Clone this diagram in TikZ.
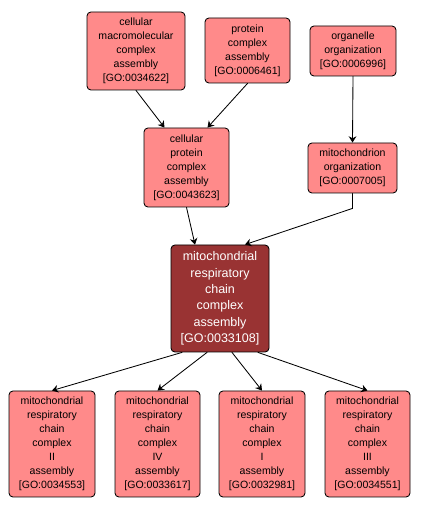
\documentclass[tikz,border=0pt]{standalone}
\usepackage{fontspec}
\setmainfont{Liberation Sans}
\usepackage{tikz}
\usetikzlibrary{arrows.meta}
\usepackage{xcolor}
\definecolor{termfill}{RGB}{255,138,138}
\definecolor{focusfill}{RGB}{153,51,51}

\begin{document}
\begin{tikzpicture}[>={Stealth[length=4.5pt,width=5.5pt,inset=1.5pt]},line cap=round,line width=0.6pt,
  term/.style={draw=black,fill=termfill,rounded corners=2.8pt,inner sep=0pt,align=center,
    font=\fontsize{7.5}{10}\selectfont},
  focus/.style={term,fill=focusfill,text=white,font=\fontsize{8.9}{11.7}\selectfont}]
\useasboundingbox (0,0) rectangle (10.5,12.725);
% top row
\node[term,minimum width=2.45cm,minimum height=1.95cm] (cmc) at (3.4,11.45)
  {cellular\\macromolecular\\complex\\assembly\\{[GO:0034622]}};
\node[term,minimum width=2.125cm,minimum height=1.625cm] (pca) at (6.1875,11.4625)
  {protein\\complex\\assembly\\{[GO:0006461]}};
\node[term,minimum width=2.15cm,minimum height=1.25cm] (oo) at (8.825,11.45)
  {organelle\\organization\\{[GO:0006996]}};
% middle row
\node[term,minimum width=2.125cm,minimum height=1.975cm] (cpca) at (4.6625,8.5375)
  {cellular\\protein\\complex\\assembly\\{[GO:0043623]}};
\node[term,minimum width=2.225cm,minimum height=1.25cm] (mo) at (8.8125,8.525)
  {mitochondrion\\organization\\{[GO:0007005]}};
\node[focus,minimum width=2.45cm,minimum height=2.675cm] (mrcca) at (5.5,5.2625)
  {mitochondrial\\respiratory\\chain\\complex\\assembly\\{[GO:0033108]}};
% bottom row
\node[term,minimum width=2.15cm,minimum height=2.65cm] (c2) at (1.3,1.625)
  {mitochondrial\\respiratory\\chain\\complex\\II\\assembly\\{[GO:0034553]}};
\node[term,minimum width=2.125cm,minimum height=2.65cm] (c4) at (3.9375,1.625)
  {mitochondrial\\respiratory\\chain\\complex\\IV\\assembly\\{[GO:0033617]}};
\node[term,minimum width=2.15cm,minimum height=2.65cm] (c1) at (6.55,1.625)
  {mitochondrial\\respiratory\\chain\\complex\\I\\assembly\\{[GO:0032981]}};
\node[term,minimum width=2.125cm,minimum height=2.65cm] (c3) at (9.1875,1.625)
  {mitochondrial\\respiratory\\chain\\complex\\III\\assembly\\{[GO:0034551]}};
% edges
\draw[->] (cmc.south) -- ([xshift=-0.55cm]cpca.north);
\draw[->] (pca.south) -- ([xshift=0.525cm]cpca.north);
\draw[->] (oo.south) -- (mo.north);
\draw[->] (cpca.south) -- ([xshift=-0.625cm]mrcca.north);
\draw[->] (mo.south) -- ([yshift=-0.375cm]mo.south) -- ([xshift=0.625cm]mrcca.north);
\draw[->] ([xshift=-0.95cm]mrcca.south) -- (c2.north);
\draw[->] ([xshift=-0.325cm]mrcca.south) -- (c4.north);
\draw[->] ([xshift=0.3cm]mrcca.south) -- (c1.north);
\draw[->] ([xshift=0.95cm]mrcca.south) -- (c3.north);
\end{tikzpicture}
\end{document}
